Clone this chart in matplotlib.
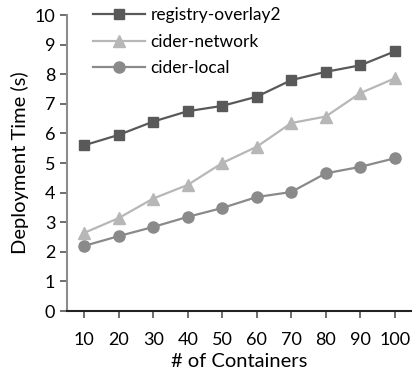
import numpy as np
import matplotlib.pyplot as plt

plt.rcParams['font.family'] = ['Lato', 'DejaVu Sans']

# data
containers = [10, 20, 30, 40, 50, 60, 70, 80, 90, 100]
registry_overlay2 = [5.6, 5.95, 6.4, 6.75, 6.93, 7.24, 7.8, 8.08, 8.3, 8.77]
cider_network = [2.64, 3.14, 3.8, 4.26, 5.0, 5.55, 6.35, 6.57, 7.36, 7.86]
cider_local = [2.2, 2.53, 2.84, 3.18, 3.48, 3.85, 4.02, 4.65, 4.87, 5.16]

fig = plt.figure(figsize=(4.12, 3.77), dpi=100)
ax = fig.add_axes([67/412, 1 - 311/377, 345/412, 296/377])

ax.plot(containers, registry_overlay2, color='#595959', marker='s', markersize=7.5,
        linewidth=1.6, label='registry-overlay2')
ax.plot(containers, cider_network, color='#b7b7b7', marker='^', markersize=8,
        linewidth=1.6, label='cider-network')
ax.plot(containers, cider_local, color='#8a8a8a', marker='o', markersize=8,
        linewidth=1.6, label='cider-local')

ax.set_xlim(5, 105)
ax.set_ylim(0, 10)
ax.set_xticks(containers)
ax.set_yticks(range(0, 11))
ax.tick_params(labelsize=13, length=5, width=1.2, color='#555555', direction='out')
ax.tick_params(axis='x', pad=10)

for s in ['top', 'right']:
    ax.spines[s].set_visible(False)
ax.spines['left'].set_color('#8c8c8c')
ax.spines['left'].set_linewidth(1.5)
ax.spines['bottom'].set_color('#222222')
ax.spines['bottom'].set_linewidth(1.5)

ax.set_xlabel('# of Containers', fontsize=14.5, labelpad=4)
ax.set_ylabel('Deployment Time (s)', fontsize=14.5, labelpad=4)

ax.legend(loc='upper left', bbox_to_anchor=(0.03, 1.08), frameon=False,
          fontsize=12.5, handlelength=3.0, labelspacing=0.62, handletextpad=0.3)

fig.savefig('out.png', dpi=100)
